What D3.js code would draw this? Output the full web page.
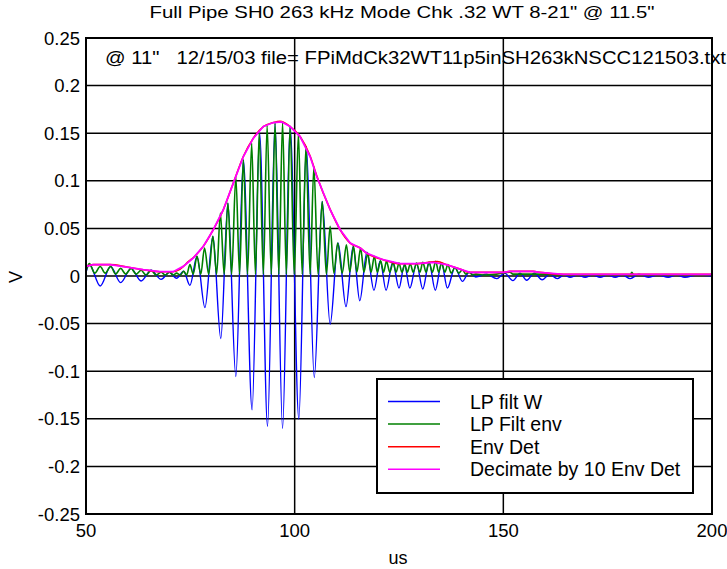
<!DOCTYPE html>
<html>
<head>
<meta charset="utf-8">
<script src="https://cdn.jsdelivr.net/npm/d3@7/dist/d3.min.js"></script>
<style>
body{margin:0;background:#fff}
text{font-family:"Liberation Sans",Arial,sans-serif;fill:#000}
</style>
</head>
<body>
<div id="grafica"></div>
<script>
// datos
const titulo = "Full Pipe SH0 263 kHz Mode Chk .32 WT 8-21\" @ 11.5\""
const nota = "@ 11\"   12/15/03 file= FPiMdCk32WT11p5inSH263kNSCC121503.txt"
const xLabel = "us"
const yLabel = "V"
const xTicks = [50, 100, 150, 200]
const yTicks = [-0.25, -0.2, -0.15, -0.1, -0.05, 0, 0.05, 0.1, 0.15, 0.2, 0.25]
const yTickLabels = ["-0.25", "-0.2", "-0.15", "-0.1", "-0.05", "0", "0.05", "0.1", "0.15", "0.2", "0.25"]
const nombres = ["LP filt W", "LP Filt env", "Env Det", "Decimate by 10 Env Det"]
const colores = ["#0000ff", "#008000", "#ff0000", "#ff00ff"]

// LP filt W  [us, V]
const lpFiltW = [[50,0.004],[50.8,0.012],[53.4,-0.0105],[55.9,0.010],[58.3,-0.007],[60.8,0.008],[63.2,-0.0052],[65.6,0.006],[68.0,-0.0035],[70.0,0.004],[71.7,-0.0024],[73.4,0.005],[74.9,-0.0098],[76.6,0.0206],[78.5,-0.0332],[80.4,0.0416],[82.3,-0.0657],[84.0,0.0766],[85.9,-0.1056],[87.7,0.122],[89.8,-0.1406],[91.6,0.150],[93.5,-0.158],[95.3,0.1605],[97.1,-0.160],[98.9,0.157],[101.0,-0.1503],[102.8,0.136],[104.7,-0.1066],[106.6,0.0783],[108.5,-0.0507],[110.4,0.0346],[112.3,-0.0322],[114.0,0.031],[115.6,-0.026],[117.3,0.025],[119.0,-0.015],[120.5,0.016],[121.9,-0.015],[123.5,0.0145],[125.0,-0.0126],[126.3,0.012],[127.6,-0.0126],[129.2,0.013],[130.7,-0.0136],[132.2,0.0145],[133.7,-0.015],[135.2,0.0136],[136.6,-0.0126],[138.4,0.009],[140.2,-0.0056],[141.8,0.004],[143.4,-0.001],[146.0,0.002],[148.4,-0.0028],[150.3,0.003],[152.3,-0.0049],[154.0,0.003],[155.6,-0.0045],[157.4,0.003],[159.3,-0.004],[161.1,0.002],[162.9,-0.0028],[164.5,0.001],[166.0,-0.0014],[167.8,0.001],[169.6,-0.0014],[171.4,0.001],[173.2,-0.0014],[175.0,0.001],[176.8,-0.0014],[178.6,0.001],[180.4,-0.0028],[182.5,0.002],[184.7,-0.0014],[187.1,0.001],[189.5,-0.0014],[191.5,0.001],[193.5,-0.0014],[196.5,0.001],[200,0.0]]

// LP Filt env  [us, V]
const lpFiltEnv = [[50,0.005],[50.8,0.013],[52.1,0.003],[53.4,0.010],[54.6,0.003],[55.9,0.010],[57.1,0.002],[58.3,0.008],[59.5,0.002],[60.8,0.008],[62.0,0.002],[63.2,0.006],[64.4,0.001],[65.6,0.006],[66.8,0.001],[68.0,0.004],[69.0,0.001],[70.0,0.004],[70.9,0.001],[71.7,0.003],[72.6,0.001],[73.4,0.005],[74.1,0.001],[74.9,0.0119],[75.7,0.002],[76.6,0.0206],[77.5,0.002],[78.4,0.0294],[79.4,0.002],[80.4,0.0416],[81.3,0.002],[82.2,0.0661],[83.1,0.002],[84.0,0.0766],[84.9,0.002],[85.9,0.1045],[86.8,0.002],[87.7,0.122],[88.7,0.002],[89.7,0.1395],[90.6,0.002],[91.5,0.150],[92.5,0.002],[93.4,0.158],[94.4,0.002],[95.3,0.1605],[96.2,0.002],[97.1,0.1612],[98.0,0.002],[98.9,0.157],[99.9,0.002],[100.9,0.150],[101.8,0.002],[102.7,0.136],[103.7,0.002],[104.6,0.115],[105.6,0.002],[106.6,0.0783],[107.6,0.002],[108.5,0.0521],[109.4,0.003],[110.3,0.0346],[111.4,0.003],[112.4,0.0329],[113.2,0.004],[114.1,0.0311],[114.9,0.004],[115.8,0.0294],[116.6,0.004],[117.5,0.0241],[118.3,0.004],[119.1,0.0206],[119.8,0.004],[120.6,0.016],[121.3,0.004],[122.0,0.0154],[122.8,0.004],[123.6,0.0145],[124.3,0.004],[125.0,0.0136],[125.7,0.004],[126.4,0.0119],[127.0,0.004],[127.7,0.0129],[128.4,0.004],[129.2,0.0136],[130.0,0.004],[130.7,0.0143],[131.5,0.004],[132.2,0.0145],[133.0,0.004],[133.8,0.0154],[134.5,0.004],[135.2,0.0136],[136.0,0.004],[136.7,0.012],[137.5,0.003],[138.4,0.009],[139.3,0.003],[140.2,0.0066],[141.0,0.002],[141.8,0.004],[142.6,0.001],[143.4,0.002],[145.0,0.001],[148.4,0.002],[151.6,0.004],[152.3,0.002],[158,0.002],[164,0.001],[180.4,0.001],[180.8,0.004],[181.2,0.001],[200,0.001]]

// Env Det  [us, V]
const envDet = [[50,0.0101],[51.7,0.0119],[55.8,0.0119],[59.8,0.0094],[63.7,0.0066],[67.7,0.0045],[70.9,0.0045],[72.5,0.007],[74.5,0.015],[76.0,0.0205],[78.1,0.0311],[80.5,0.0486],[82.9,0.0696],[85.3,0.0976],[87.7,0.1255],[90.1,0.1448],[92.5,0.157],[94.9,0.1612],[96.5,0.1625],[98.9,0.157],[101.3,0.1465],[103.7,0.126],[105.3,0.105],[108.5,0.07],[110.9,0.0486],[113.3,0.0346],[115.7,0.0294],[117.2,0.0241],[121.2,0.0171],[125.2,0.0129],[129.2,0.0129],[134.2,0.0152],[136.4,0.0119],[139.6,0.0073],[142,0.0038],[150,0.0038],[151.6,0.0049],[157.2,0.0049],[158.8,0.0038],[164.4,0.0017],[200,0.0017]]

// Decimate by 10 Env Det  [us, V]
const decimate10 = [[50,0.0101],[51.7,0.0119],[55.8,0.0119],[59.8,0.0094],[63.7,0.0066],[67.7,0.0045],[70.9,0.0045],[73.3,0.0101],[75.7,0.0189],[78.1,0.0311],[80.5,0.0486],[82.9,0.0696],[85.3,0.0976],[87.7,0.1255],[90.1,0.1448],[92.5,0.157],[94.9,0.1612],[96.9,0.1619],[98.9,0.157],[101.3,0.1465],[103.7,0.1255],[105.3,0.1045],[108.5,0.0696],[110.9,0.0486],[113.3,0.0346],[115.7,0.0294],[117.2,0.0241],[121.2,0.0171],[125.2,0.0129],[129.2,0.0129],[133.2,0.0143],[136.4,0.0119],[139.6,0.0073],[142,0.0038],[150,0.0038],[151.6,0.0049],[157.2,0.0049],[158.8,0.0038],[164.4,0.0017],[200,0.0017]]

dibujar()

function dibujar(){
	var W=727, H=569
	var margin={top:38,right:15,bottom:55,left:86}
	var ancho=W-margin.left-margin.right
	var alto=H-margin.top-margin.bottom

	var svg=d3.select("#grafica")
		.append("svg")
		.attr("width",W)
		.attr("height",H)

	var g=svg.append("g")
		.attr("transform","translate("+margin.left+","+margin.top+")")

	var x=d3.scaleLinear().domain([50,200]).range([0,ancho])
	var y=d3.scaleLinear().domain([-0.25,0.25]).range([alto,0])

	// rejilla
	g.selectAll("line.gy")
		.data(yTicks)
		.enter().append("line")
		.attr("class","gy")
		.attr("x1",0).attr("x2",ancho)
		.attr("y1",d=>y(d)).attr("y2",d=>y(d))
		.style("stroke","#000").style("stroke-width",1.5)
	g.selectAll("line.gx")
		.data(xTicks)
		.enter().append("line")
		.attr("class","gx")
		.attr("x1",d=>x(d)).attr("x2",d=>x(d))
		.attr("y1",0).attr("y2",alto)
		.style("stroke","#000").style("stroke-width",1.5)

	// etiquetas de ejes
	g.selectAll("text.ty")
		.data(yTicks)
		.enter().append("text")
		.attr("class","ty")
		.attr("x",-6)
		.attr("y",d=>y(d))
		.attr("dy","0.36em")
		.attr("text-anchor","end")
		.style("font-size","18.5px")
		.text((d,i)=>yTickLabels[i])
	g.selectAll("text.tx")
		.data(xTicks)
		.enter().append("text")
		.attr("class","tx")
		.attr("x",d=>x(d))
		.attr("y",alto+23)
		.attr("text-anchor","middle")
		.style("font-size","18.5px")
		.text(d=>d)

	// series
	var linea=d3.line()
		.x(d=>x(d[0]))
		.y(d=>y(d[1]))
		.curve(d3.curveMonotoneX)
	var lineaRecta=d3.line()
		.x(d=>x(d[0]))
		.y(d=>y(d[1]))

	g.append("clipPath").attr("id","recorte")
		.append("rect").attr("width",ancho).attr("height",alto)
	var capa=g.append("g").attr("clip-path","url(#recorte)")

	capa.append("path").datum(lpFiltW)
		.attr("d",linea)
		.style("fill","none").style("stroke",colores[0]).style("stroke-width",1.4)
	capa.append("path").datum(lpFiltEnv)
		.attr("d",linea)
		.style("fill","none").style("stroke",colores[1]).style("stroke-width",1.6)
	capa.append("path").datum(envDet)
		.attr("d",linea)
		.style("fill","none").style("stroke",colores[2]).style("stroke-width",1.6)
	capa.append("path").datum(decimate10)
		.attr("d",lineaRecta)
		.style("fill","none").style("stroke",colores[3]).style("stroke-width",1.8)

	// marco
	g.append("rect")
		.attr("width",ancho).attr("height",alto)
		.style("fill","none").style("stroke","#000").style("stroke-width",2)

	// textos
	svg.append("text")
		.attr("x",margin.left+ancho/2+3)
		.attr("y",18)
		.attr("text-anchor","middle")
		.attr("textLength",505)
		.attr("lengthAdjust","spacingAndGlyphs")
		.style("font-size","17px")
		.text(titulo)
	svg.append("text")
		.attr("x",105)
		.attr("y",64)
		.attr("textLength",621)
		.attr("lengthAdjust","spacingAndGlyphs")
		.style("font-size","17.5px")
		.style("white-space","pre")
		.text(nota)
	svg.append("text")
		.attr("x",margin.left+ancho/2-1)
		.attr("y",564)
		.attr("text-anchor","middle")
		.style("font-size","18px")
		.text(xLabel)
	svg.append("text")
		.attr("transform","translate(22,277) rotate(-90)")
		.attr("text-anchor","middle")
		.style("font-size","18px")
		.text(yLabel)

	// leyenda
	var ley=svg.append("g")
	ley.append("rect")
		.attr("x",377).attr("y",379)
		.attr("width",316).attr("height",114)
		.style("fill","#fff").style("stroke","#000").style("stroke-width",2)
	var filas=ley.selectAll("g.fila")
		.data(nombres)
		.enter().append("g")
		.attr("class","fila")
		.attr("transform",(d,i)=>"translate(0,"+(401.5+i*22.6)+")")
	filas.append("line")
		.attr("x1",388).attr("x2",440)
		.style("stroke",(d,i)=>colores[i]).style("stroke-width",1.5)
	filas.append("text")
		.attr("x",470)
		.attr("dy","0.36em")
		.style("font-size","19.5px")
		.text(d=>d)
}
</script>
</body>
</html>
